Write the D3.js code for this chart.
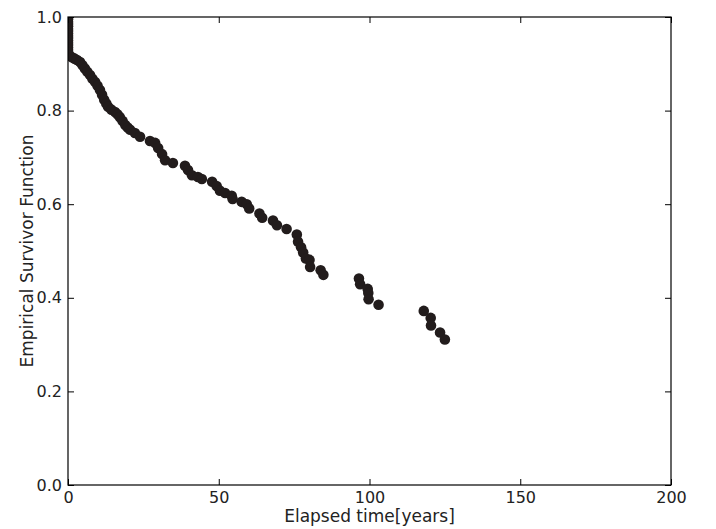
<!DOCTYPE html>
<html>
<head>
<meta charset="utf-8">
<script src="https://cdn.jsdelivr.net/npm/d3@7"></script>
<style>
  body { margin: 0; background: #fff; }
  text { font-family: "DejaVu Sans", sans-serif; fill: #222; }
</style>
</head>
<body>
<div id="chart"></div>
<script>
// survivor curve
var times = [0,0,0,0,0,0,0,0,0,0,0,0,0,0,0,0,
  0.5,1.3,2.2,3.0,4.0,4.8,5.6,6.4,7.3,8.1,9.0,9.8,10.6,11.3,12.0,12.7,13.3,14.4,15.6,16.4,17.2,18.1,19.0,19.8,20.6,22.2,23.9,27.2,28.9,29.9,31.2,32.2,34.8,
  38.8,39.8,41.1,43.1,44.4,47.8,49.3,50.4,52.1,54.3,54.6,57.6,59.3,60.1,63.5,64.4,68.0,69.3,72.5,75.9,76.3,77.3,78.0,78.9,80.1,80.3,83.8,84.7,
  96.5,96.9,99.4,99.6,99.7,103.0,118.0,120.3,120.4,123.4,125.0];
var survival = [1.0,0.995,0.99,0.985,0.98,0.975,0.97,0.965,0.96,0.955,0.95,0.945,0.94,0.935,0.93,0.925,
  0.918,0.914,0.911,0.908,0.904,0.897,0.890,0.883,0.876,0.868,0.861,0.853,0.844,0.834,0.823,0.815,0.808,0.802,0.797,0.792,0.786,0.778,0.769,0.764,0.759,0.752,0.744,0.735,0.731,0.720,0.707,0.694,0.688,
  0.682,0.673,0.662,0.658,0.654,0.648,0.639,0.629,0.624,0.618,0.611,0.605,0.600,0.591,0.580,0.571,0.565,0.555,0.547,0.535,0.520,0.508,0.497,0.484,0.481,0.466,0.459,0.449,
  0.441,0.429,0.419,0.410,0.397,0.385,0.372,0.357,0.341,0.326,0.311];
var xTicks = [0, 50, 100, 150, 200];
var yTicks = [0.0, 0.2, 0.4, 0.6, 0.8, 1.0];

var W = 716, H = 529;
var margin = {top: 17, right: 45, bottom: 44, left: 68};
var width = W - margin.left - margin.right,
    height = H - margin.top - margin.bottom;

var svg = d3.select("#chart").append("svg")
    .attr("width", W).attr("height", H);
var g = svg.append("g")
    .attr("transform", "translate(" + margin.left + "," + margin.top + ")");

var x = d3.scaleLinear().domain([0, 200]).range([0, width]);
var y = d3.scaleLinear().domain([0, 1]).range([height, 0]);

g.append("clipPath").attr("id", "clip")
  .append("rect").attr("width", width).attr("height", height);

// points
var pts = times.map(function(t, i) { return [t, survival[i]]; });
g.append("g").attr("clip-path", "url(#clip)")
  .selectAll("circle")
  .data(pts)
  .enter().append("circle")
    .attr("cx", function(d) { return x(d[0]); })
    .attr("cy", function(d) { return y(d[1]); })
    .attr("r", 5.3)
    .attr("fill", "#221c1c");

// axes: ticks point inward, matplotlib style, on all sides
function styleAxis(sel) {
  sel.select(".domain").remove();
  sel.selectAll("line").attr("stroke", "#000").attr("stroke-width", 1);
  sel.selectAll("text").style("font-size", "16px").attr("fill", "#222");
}
g.append("g").attr("transform", "translate(0," + height + ")")
  .call(d3.axisBottom(x).tickValues(xTicks).tickSize(-6).tickPadding(7).tickFormat(d3.format("d")))
  .call(styleAxis);
g.append("g")
  .call(d3.axisTop(x).tickValues(xTicks).tickSize(-6).tickFormat(""))
  .call(styleAxis);
g.append("g")
  .call(d3.axisLeft(y).tickValues(yTicks).tickSize(-6).tickPadding(6).tickFormat(d3.format(".1f")))
  .call(styleAxis);
g.append("g").attr("transform", "translate(" + width + ",0)")
  .call(d3.axisRight(y).tickValues(yTicks).tickSize(-6).tickFormat(""))
  .call(styleAxis);

g.append("rect")
  .attr("width", width).attr("height", height)
  .attr("fill", "none").attr("stroke", "#000").attr("stroke-width", 1.2);

// labels
g.append("text")
  .attr("x", width / 2).attr("y", height + 37)
  .attr("text-anchor", "middle")
  .style("font-size", "17px")
  .text("Elapsed time[years]");
g.append("text")
  .attr("transform", "translate(" + (-35) + "," + (height / 2) + ") rotate(-90)")
  .attr("text-anchor", "middle")
  .style("font-size", "17px")
  .text("Empirical Survivor Function");
</script>
</body>
</html>
